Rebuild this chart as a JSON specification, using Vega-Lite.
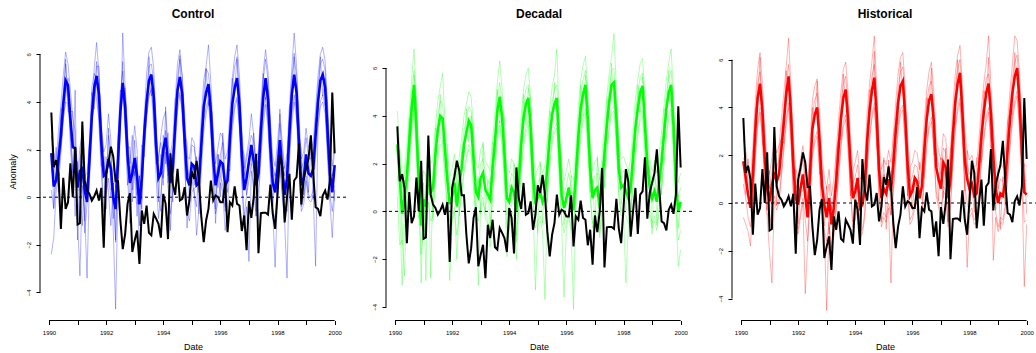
{
"$schema": "https://vega.github.io/schema/vega-lite/v6.json",
"padding": {"left": 7, "top": 8, "right": 0, "bottom": 0},
"background": "white",
"datasets": {"ts": [
{"t":1990.083,"o":3.56,"c":1.85,"c1":2.6,"c2":-2.4,"c3":1.2,"c4":0.3,"c5":3.15,"d":2.8,"d1":4.2,"d2":1.5,"d3":2.9,"d4":0.6,"d5":2.0,"h":1.75,"h1":2.7,"h2":-0.6,"h3":1.9,"h4":0.8,"h5":1.65},
{"t":1990.167,"o":1.26,"c":0.45,"c1":1.9,"c2":-1.7,"c3":0.8,"c4":-0.5,"c5":-0.45,"d":1.4,"d1":2.6,"d2":0.2,"d3":2.2,"d4":-1.4,"d5":2.6,"h":1.05,"h1":2.2,"h2":-0.9,"h3":1.6,"h4":0.2,"h5":0.35},
{"t":1990.25,"o":1.56,"c":0.7,"c1":1.4,"c2":0.2,"c3":2.1,"c4":0.9,"c5":1.3,"d":-0.1,"d1":1.0,"d2":-3.1,"d3":0.6,"d4":-1.2,"d5":-1.4,"h":0.35,"h1":1.5,"h2":-1.2,"h3":0.9,"h4":-0.6,"h5":1.85},
{"t":1990.333,"o":0.98,"c":1.6,"c1":2.8,"c2":1.1,"c3":0.5,"c4":2.2,"c5":0.2,"d":0.6,"d1":1.8,"d2":-0.6,"d3":1.5,"d4":-2.7,"d5":1.3,"h":-0.2,"h1":1.0,"h2":-1.8,"h3":0.4,"h4":-1.0,"h5":0.1},
{"t":1990.417,"o":-1.33,"c":2.6,"c1":3.9,"c2":2.0,"c3":1.8,"c4":3.4,"c5":3.7,"d":1.5,"d1":2.7,"d2":0.4,"d3":2.1,"d4":0.8,"d5":1.0,"h":1.2,"h1":2.4,"h2":0.0,"h3":1.8,"h4":0.2,"h5":0.1},
{"t":1990.5,"o":0.81,"c":3.9,"c1":5.1,"c2":3.2,"c3":3.3,"c4":4.4,"c5":3.7,"d":2.9,"d1":4.1,"d2":1.8,"d3":3.6,"d4":2.2,"d5":3.9,"h":3.0,"h1":4.2,"h2":1.8,"h3":3.6,"h4":2.0,"h5":3.9},
{"t":1990.583,"o":-0.49,"c":4.9,"c1":6.1,"c2":4.2,"c3":4.0,"c4":5.6,"c5":5.8,"d":4.3,"d1":5.5,"d2":3.2,"d3":5.0,"d4":3.6,"d5":3.4,"h":4.4,"h1":5.6,"h2":3.2,"h3":5.0,"h4":3.4,"h5":4.2},
{"t":1990.667,"o":-0.21,"c":4.7,"c1":5.6,"c2":5.0,"c3":3.9,"c4":4.2,"c5":3.6,"d":5.3,"d1":6.8,"d2":4.1,"d3":5.9,"d4":4.6,"d5":5.7,"h":5.0,"h1":6.3,"h2":3.8,"h3":5.5,"h4":4.0,"h5":6.1},
{"t":1990.75,"o":1.42,"c":3.3,"c1":4.5,"c2":2.1,"c3":2.6,"c4":2.9,"c5":3.6,"d":3.5,"d1":4.7,"d2":2.4,"d3":4.1,"d4":2.6,"d5":4.7,"h":3.85,"h1":5.0,"h2":2.6,"h3":4.4,"h4":2.8,"h5":2.45},
{"t":1990.833,"o":0.0,"c":2.1,"c1":3.3,"c2":0.6,"c3":1.2,"c4":1.0,"c5":3.6,"d":1.3,"d1":2.5,"d2":0.1,"d3":1.9,"d4":-0.3,"d5":0.3,"h":1.9,"h1":3.1,"h2":0.7,"h3":2.5,"h4":0.9,"h5":2.5},
{"t":1990.917,"o":2.12,"c":2.05,"c1":2.8,"c2":1.7,"c3":-0.8,"c4":4.5,"c5":1.35,"d":-0.6,"d1":0.6,"d2":-1.8,"d3":-3.0,"d4":0.4,"d5":0.2,"h":0.6,"h1":1.8,"h2":-0.6,"h3":1.2,"h4":-0.4,"h5":-0.3},
{"t":1991.0,"o":-1.15,"c":0.4,"c1":-0.9,"c2":0.8,"c3":1.5,"c4":-1.8,"c5":0.3,"d":0.5,"d1":1.7,"d2":-0.7,"d3":1.2,"d4":-0.5,"d5":-1.0,"h":0.07,"h1":1.2,"h2":-2.1,"h3":0.6,"h4":-1.0,"h5":1.37},
{"t":1991.083,"o":-1.09,"c":1.1,"c1":-3.3,"c2":2.1,"c3":0.2,"c4":1.6,"c5":0.3,"d":0.2,"d1":1.5,"d2":-1.0,"d3":-2.9,"d4":1.1,"d5":1.5,"h":0.75,"h1":1.9,"h2":-3.35,"h3":1.3,"h4":-0.3,"h5":-0.75},
{"t":1991.167,"o":3.18,"c":1.2,"c1":0.5,"c2":2.7,"c3":-1.2,"c4":2.0,"c5":2.4,"d":1.6,"d1":2.9,"d2":0.4,"d3":2.2,"d4":0.8,"d5":0.7,"h":1.3,"h1":2.5,"h2":0.1,"h3":1.9,"h4":0.3,"h5":2.1},
{"t":1991.25,"o":0.7,"c":0.3,"c1":-0.6,"c2":1.1,"c3":0.9,"c4":-1.5,"c5":-1.0,"d":0.8,"d1":2.0,"d2":-0.4,"d3":-2.8,"d4":1.4,"d5":1.4,"h":0.9,"h1":2.1,"h2":-0.3,"h3":1.5,"h4":-0.1,"h5":-0.1},
{"t":1991.333,"o":0.28,"c":-0.2,"c1":-3.4,"c2":0.4,"c3":1.0,"c4":-0.3,"c5":0.5,"d":1.0,"d1":2.2,"d2":-0.2,"d3":1.7,"d4":0.1,"d5":-0.4,"h":1.2,"h1":2.4,"h2":0.0,"h3":1.8,"h4":0.2,"h5":2.4},
{"t":1991.417,"o":0.14,"c":1.6,"c1":0.7,"c2":2.4,"c3":2.3,"c4":1.2,"c5":1.1,"d":2.4,"d1":3.6,"d2":1.2,"d3":3.0,"d4":1.5,"d5":3.5,"h":2.3,"h1":3.5,"h2":1.1,"h3":2.9,"h4":1.3,"h5":2.7},
{"t":1991.5,"o":-0.14,"c":3.4,"c1":2.5,"c2":4.6,"c3":3.1,"c4":3.7,"c5":4.4,"d":3.4,"d1":4.6,"d2":2.2,"d3":4.0,"d4":2.5,"d5":3.2,"h":3.4,"h1":4.6,"h2":2.2,"h3":4.0,"h4":2.4,"h5":2.5},
{"t":1991.583,"o":0.03,"c":4.6,"c1":5.4,"c2":5.2,"c3":3.9,"c4":4.8,"c5":3.7,"d":4.0,"d1":5.2,"d2":2.8,"d3":4.6,"d4":3.1,"d5":4.9,"h":4.55,"h1":5.7,"h2":3.3,"h3":5.1,"h4":3.5,"h5":5.55},
{"t":1991.667,"o":0.28,"c":5.1,"c1":6.5,"c2":4.9,"c3":5.7,"c4":4.1,"c5":5.5,"d":3.9,"d1":5.8,"d2":2.7,"d3":4.5,"d4":3.0,"d5":2.8,"h":5.3,"h1":6.9,"h2":4.0,"h3":5.8,"h4":4.2,"h5":4.8},
{"t":1991.75,"o":-0.14,"c":4.3,"c1":5.2,"c2":3.0,"c3":4.9,"c4":3.3,"c5":5.5,"d":2.6,"d1":3.8,"d2":1.4,"d3":3.2,"d4":1.6,"d5":2.9,"h":3.7,"h1":4.9,"h2":2.5,"h3":4.3,"h4":2.7,"h5":4.4},
{"t":1991.833,"o":0.39,"c":2.3,"c1":3.1,"c2":1.2,"c3":2.8,"c4":1.4,"c5":1.3,"d":1.3,"d1":2.5,"d2":0.1,"d3":1.9,"d4":0.3,"d5":2.8,"h":1.6,"h1":2.8,"h2":0.4,"h3":2.2,"h4":0.6,"h5":0.3},
{"t":1991.917,"o":-2.12,"c":0.9,"c1":1.9,"c2":-1.0,"c3":1.8,"c4":-0.6,"c5":1.7,"d":0.3,"d1":1.5,"d2":-2.9,"d3":0.9,"d4":-0.7,"d5":-0.4,"h":0.2,"h1":1.4,"h2":-1.0,"h3":0.8,"h4":-0.8,"h5":1.4},
{"t":1992.0,"o":0.98,"c":1.0,"c1":2.2,"c2":0.1,"c3":0.3,"c4":1.7,"c5":-0.5,"d":0.6,"d1":1.8,"d2":-0.6,"d3":1.2,"d4":-0.4,"d5":0.5,"h":-0.07,"h1":1.1,"h2":-1.3,"h3":0.5,"h4":-1.1,"h5":-0.87},
{"t":1992.083,"o":1.47,"c":1.6,"c1":3.5,"c2":0.8,"c3":2.6,"c4":0.2,"c5":2.9,"d":1.2,"d1":2.4,"d2":0.0,"d3":1.8,"d4":0.2,"d5":0.4,"h":0.6,"h1":1.8,"h2":-0.6,"h3":1.2,"h4":-0.4,"h5":0.5},
{"t":1992.167,"o":2.12,"c":1.2,"c1":2.4,"c2":0.0,"c3":1.9,"c4":-1.2,"c5":0.3,"d":0.2,"d1":1.4,"d2":-1.0,"d3":0.8,"d4":-2.0,"d5":1.4,"h":1.2,"h1":2.4,"h2":0.0,"h3":1.8,"h4":0.2,"h5":0.5},
{"t":1992.25,"o":1.7,"c":0.0,"c1":-1.4,"c2":1.3,"c3":-0.9,"c4":0.6,"c5":0.6,"d":1.1,"d1":2.3,"d2":-0.1,"d3":1.7,"d4":0.1,"d5":-0.2,"h":0.3,"h1":1.5,"h2":-3.8,"h3":0.9,"h4":-0.7,"h5":1.8},
{"t":1992.333,"o":0.67,"c":-0.5,"c1":-4.7,"c2":0.4,"c3":0.5,"c4":-1.8,"c5":-1.9,"d":1.8,"d1":3.0,"d2":0.6,"d3":2.4,"d4":0.8,"d5":2.5,"h":-0.6,"h1":0.6,"h2":-1.8,"h3":0.0,"h4":-1.6,"h5":-0.3},
{"t":1992.417,"o":0.67,"c":1.5,"c1":0.3,"c2":2.6,"c3":1.8,"c4":2.2,"c5":2.6,"d":2.8,"d1":4.0,"d2":1.6,"d3":3.4,"d4":1.8,"d5":2.3,"h":1.3,"h1":2.5,"h2":0.1,"h3":1.9,"h4":0.3,"h5":0.2},
{"t":1992.5,"o":-0.98,"c":3.6,"c1":2.9,"c2":4.5,"c3":3.2,"c4":4.4,"c5":3.4,"d":3.3,"d1":4.5,"d2":2.1,"d3":3.9,"d4":2.3,"d5":4.3,"h":3.1,"h1":4.3,"h2":1.9,"h3":3.7,"h4":2.1,"h5":4.0},
{"t":1992.583,"o":-2.18,"c":4.8,"c1":6.9,"c2":4.3,"c3":4.5,"c4":5.3,"c5":5.7,"d":3.8,"d1":5.0,"d2":2.6,"d3":4.4,"d4":2.8,"d5":2.9,"h":3.7,"h1":4.9,"h2":2.5,"h3":4.3,"h4":2.7,"h5":3.5},
{"t":1992.667,"o":-1.54,"c":3.8,"c1":4.6,"c2":2.9,"c3":4.6,"c4":3.2,"c5":2.7,"d":3.6,"d1":4.8,"d2":2.4,"d3":4.2,"d4":2.6,"d5":4.0,"h":4.0,"h1":5.2,"h2":2.8,"h3":4.6,"h4":3.0,"h5":5.1},
{"t":1992.75,"o":-0.28,"c":1.8,"c1":2.9,"c2":0.5,"c3":2.5,"c4":0.9,"c5":2.1,"d":2.2,"d1":3.4,"d2":1.0,"d3":2.8,"d4":1.2,"d5":3.4,"h":2.6,"h1":3.8,"h2":1.4,"h3":3.2,"h4":1.6,"h5":1.2},
{"t":1992.833,"o":0.17,"c":0.6,"c1":-0.6,"c2":1.3,"c3":1.4,"c4":-1.1,"c5":2.1,"d":0.8,"d1":2.0,"d2":-0.4,"d3":1.4,"d4":-0.2,"d5":-0.2,"h":0.77,"h1":2.0,"h2":-0.4,"h3":1.4,"h4":-0.2,"h5":1.37},
{"t":1992.917,"o":-2.3,"c":1.0,"c1":1.9,"c2":-0.2,"c3":2.6,"c4":0.4,"c5":0.3,"d":0.6,"d1":1.8,"d2":-3.1,"d3":1.2,"d4":-0.4,"d5":1.4,"h":-0.07,"h1":1.1,"h2":-1.3,"h3":0.5,"h4":-1.1,"h5":-0.97},
{"t":1993.0,"o":-1.82,"c":1.65,"c1":3.0,"c2":1.1,"c3":0.9,"c4":2.4,"c5":1.55,"d":1.4,"d1":2.6,"d2":0.2,"d3":2.0,"d4":0.4,"d5":-0.1,"h":-0.6,"h1":0.6,"h2":-4.5,"h3":0.0,"h4":-1.6,"h5":0.7},
{"t":1993.083,"o":-1.4,"c":0.9,"c1":2.0,"c2":-0.8,"c3":1.7,"c4":-0.3,"c5":0.1,"d":1.6,"d1":2.8,"d2":0.4,"d3":2.2,"d4":0.6,"d5":2.9,"h":0.2,"h1":1.4,"h2":-1.0,"h3":0.8,"h4":-0.8,"h5":-1.3},
{"t":1993.167,"o":-2.8,"c":-0.3,"c1":-1.2,"c2":0.9,"c3":-2.6,"c4":0.4,"c5":0.9,"d":0.9,"d1":2.1,"d2":-0.3,"d3":1.5,"d4":-0.1,"d5":0.0,"h":-0.9,"h1":0.3,"h2":-2.1,"h3":-0.3,"h4":-1.9,"h5":-0.1},
{"t":1993.25,"o":-0.56,"c":0.8,"c1":1.7,"c2":-0.1,"c3":0.3,"c4":2.2,"c5":-0.5,"d":0.7,"d1":1.9,"d2":-0.5,"d3":1.3,"d4":-0.3,"d5":1.3,"h":-0.2,"h1":1.0,"h2":-1.4,"h3":0.4,"h4":-1.2,"h5":-1.2},
{"t":1993.333,"o":-1.12,"c":2.6,"c1":3.3,"c2":2.0,"c3":2.9,"c4":1.7,"c5":3.3,"d":0.5,"d1":1.7,"d2":-0.7,"d3":1.1,"d4":-1.5,"d5":-0.9,"h":0.9,"h1":2.1,"h2":-0.3,"h3":1.5,"h4":-0.1,"h5":2.1},
{"t":1993.417,"o":-0.35,"c":4.0,"c1":5.2,"c2":3.4,"c3":4.1,"c4":3.3,"c5":3.5,"d":1.8,"d1":3.0,"d2":0.6,"d3":2.4,"d4":0.8,"d5":2.9,"h":2.3,"h1":3.5,"h2":1.1,"h3":2.9,"h4":1.3,"h5":2.7},
{"t":1993.5,"o":-1.5,"c":4.9,"c1":6.1,"c2":4.2,"c3":5.5,"c4":4.3,"c5":5.9,"d":2.9,"d1":4.1,"d2":1.7,"d3":3.5,"d4":1.9,"d5":2.7,"h":3.55,"h1":4.7,"h2":2.3,"h3":4.1,"h4":2.5,"h5":2.65},
{"t":1993.583,"o":-1.6,"c":5.15,"c1":6.3,"c2":4.6,"c3":5.6,"c4":4.5,"c5":4.25,"d":4.2,"d1":5.4,"d2":3.0,"d3":4.8,"d4":3.2,"d5":5.1,"h":4.4,"h1":5.6,"h2":3.2,"h3":5.0,"h4":3.4,"h5":5.4},
{"t":1993.667,"o":-0.7,"c":4.2,"c1":5.4,"c2":3.5,"c3":4.9,"c4":2.9,"c5":4.6,"d":4.8,"d1":6.3,"d2":3.6,"d3":5.4,"d4":3.8,"d5":3.7,"h":4.75,"h1":5.9,"h2":3.5,"h3":5.3,"h4":3.7,"h5":4.25},
{"t":1993.75,"o":-0.9,"c":2.2,"c1":3.0,"c2":0.8,"c3":2.9,"c4":1.4,"c5":3.4,"d":3.9,"d1":5.1,"d2":2.7,"d3":4.5,"d4":2.9,"d5":4.2,"h":3.4,"h1":4.6,"h2":2.2,"h3":4.0,"h4":2.4,"h5":4.1},
{"t":1993.833,"o":-1.12,"c":0.8,"c1":1.5,"c2":-0.9,"c3":0.1,"c4":1.7,"c5":-0.2,"d":2.4,"d1":3.6,"d2":1.2,"d3":3.0,"d4":1.4,"d5":3.9,"h":1.6,"h1":2.8,"h2":0.4,"h3":2.2,"h4":0.6,"h5":0.3},
{"t":1993.917,"o":-1.7,"c":1.0,"c1":2.6,"c2":0.2,"c3":-0.6,"c4":2.3,"c5":1.8,"d":0.55,"d1":1.8,"d2":-0.7,"d3":1.2,"d4":-1.9,"d5":-0.15,"h":0.2,"h1":1.4,"h2":-1.0,"h3":0.8,"h4":-0.8,"h5":1.4},
{"t":1994.0,"o":0.14,"c":2.0,"c1":3.3,"c2":1.2,"c3":2.6,"c4":0.8,"c5":0.5,"d":0.4,"d1":1.6,"d2":-0.8,"d3":1.0,"d4":-0.6,"d5":0.3,"h":0.5,"h1":1.7,"h2":-0.7,"h3":1.1,"h4":-0.5,"h5":-0.3},
{"t":1994.083,"o":-0.28,"c":2.5,"c1":3.6,"c2":2.8,"c3":1.4,"c4":1.9,"c5":3.8,"d":1.0,"d1":2.2,"d2":-0.2,"d3":1.6,"d4":0.0,"d5":0.2,"h":1.05,"h1":2.2,"h2":-0.2,"h3":1.6,"h4":0.0,"h5":0.95},
{"t":1994.167,"o":-1.76,"c":1.5,"c1":2.2,"c2":0.4,"c3":2.7,"c4":0.9,"c5":0.6,"d":0.8,"d1":2.0,"d2":-0.4,"d3":1.4,"d4":-0.2,"d5":2.0,"h":-0.2,"h1":1.0,"h2":-1.4,"h3":0.4,"h4":-1.2,"h5":-0.9},
{"t":1994.25,"o":1.84,"c":0.6,"c1":1.8,"c2":-0.7,"c3":-1.4,"c4":1.5,"c5":1.2,"d":0.0,"d1":1.2,"d2":-2.0,"d3":0.6,"d4":-1.0,"d5":-1.3,"h":-0.07,"h1":1.1,"h2":-1.3,"h3":0.5,"h4":-1.1,"h5":1.43},
{"t":1994.333,"o":0.56,"c":1.2,"c1":2.4,"c2":0.3,"c3":0.6,"c4":2.0,"c5":-0.2,"d":1.25,"d1":2.5,"d2":0.1,"d3":1.9,"d4":0.3,"d5":1.95,"h":0.6,"h1":1.8,"h2":-0.6,"h3":1.2,"h4":-0.4,"h5":0.9},
{"t":1994.417,"o":0.1,"c":3.0,"c1":4.1,"c2":2.0,"c3":3.6,"c4":2.4,"c5":4.1,"d":2.8,"d1":4.0,"d2":1.6,"d3":3.4,"d4":1.8,"d5":2.3,"h":2.6,"h1":3.8,"h2":1.4,"h3":3.2,"h4":1.6,"h5":1.5},
{"t":1994.5,"o":1.19,"c":4.5,"c1":5.6,"c2":3.6,"c3":5.0,"c4":4.1,"c5":4.3,"d":3.9,"d1":5.1,"d2":2.7,"d3":4.5,"d4":2.9,"d5":4.9,"h":3.85,"h1":5.0,"h2":2.6,"h3":4.4,"h4":2.8,"h5":4.75},
{"t":1994.583,"o":-0.14,"c":5.05,"c1":6.2,"c2":4.3,"c3":5.8,"c4":4.4,"c5":5.95,"d":4.5,"d1":5.7,"d2":3.3,"d3":5.1,"d4":3.5,"d5":3.6,"h":4.7,"h1":5.9,"h2":3.5,"h3":5.3,"h4":3.7,"h5":4.5},
{"t":1994.667,"o":-0.07,"c":4.3,"c1":5.0,"c2":3.7,"c3":5.1,"c4":3.5,"c5":3.2,"d":4.75,"d1":6.0,"d2":3.6,"d3":5.3,"d4":3.8,"d5":5.15,"h":5.25,"h1":7.0,"h2":4.0,"h3":5.8,"h4":4.2,"h5":6.35},
{"t":1994.75,"o":0.42,"c":2.4,"c1":3.5,"c2":1.3,"c3":2.9,"c4":1.6,"c5":2.7,"d":3.5,"d1":4.7,"d2":2.3,"d3":4.1,"d4":2.5,"d5":4.7,"h":3.7,"h1":4.9,"h2":2.5,"h3":4.3,"h4":2.7,"h5":2.3},
{"t":1994.833,"o":-0.77,"c":0.8,"c1":1.7,"c2":-0.6,"c3":1.4,"c4":-1.3,"c5":2.3,"d":1.5,"d1":2.7,"d2":0.3,"d3":2.1,"d4":0.5,"d5":0.5,"h":1.4,"h1":2.6,"h2":0.2,"h3":2.0,"h4":0.4,"h5":2.0},
{"t":1994.917,"o":-0.14,"c":0.5,"c1":1.6,"c2":-1.0,"c3":0.7,"c4":0.2,"c5":-0.2,"d":0.3,"d1":1.5,"d2":-3.3,"d3":0.9,"d4":-0.7,"d5":1.1,"h":0.2,"h1":1.4,"h2":-1.0,"h3":0.8,"h4":-0.8,"h5":-0.7},
{"t":1995.0,"o":1.09,"c":1.4,"c1":2.5,"c2":0.2,"c3":2.2,"c4":0.8,"c5":1.3,"d":0.6,"d1":1.8,"d2":-0.6,"d3":1.2,"d4":-0.4,"d5":-0.9,"h":0.6,"h1":1.8,"h2":-0.6,"h3":1.2,"h4":-0.4,"h5":1.9},
{"t":1995.083,"o":0.77,"c":1.3,"c1":2.3,"c2":0.4,"c3":2.1,"c4":0.1,"c5":0.5,"d":0.8,"d1":2.0,"d2":-0.4,"d3":1.4,"d4":-0.2,"d5":2.1,"h":0.4,"h1":1.6,"h2":-0.8,"h3":1.0,"h4":-0.6,"h5":-1.1},
{"t":1995.167,"o":1.53,"c":0.5,"c1":1.2,"c2":-1.6,"c3":1.3,"c4":-0.4,"c5":1.7,"d":0.4,"d1":1.6,"d2":-0.8,"d3":1.0,"d4":-0.6,"d5":-0.5,"h":1.0,"h1":2.2,"h2":-0.2,"h3":1.6,"h4":0.0,"h5":1.8},
{"t":1995.25,"o":0.7,"c":0.6,"c1":1.7,"c2":-0.5,"c3":0.2,"c4":1.4,"c5":-0.7,"d":0.7,"d1":1.9,"d2":-3.7,"d3":1.3,"d4":-0.5,"d5":1.3,"h":0.5,"h1":1.7,"h2":-3.35,"h3":1.1,"h4":-0.5,"h5":-0.5},
{"t":1995.333,"o":-0.84,"c":2.2,"c1":3.4,"c2":1.1,"c3":2.8,"c4":2.0,"c5":2.9,"d":1.8,"d1":3.0,"d2":0.6,"d3":2.4,"d4":0.8,"d5":0.4,"h":1.6,"h1":2.8,"h2":0.4,"h3":2.2,"h4":0.6,"h5":2.8},
{"t":1995.417,"o":-1.89,"c":3.8,"c1":4.9,"c2":2.7,"c3":4.3,"c4":3.2,"c5":3.3,"d":3.1,"d1":4.3,"d2":1.9,"d3":3.7,"d4":2.1,"d5":4.2,"h":3.0,"h1":4.2,"h2":1.8,"h3":3.6,"h4":2.0,"h5":3.4},
{"t":1995.5,"o":-0.98,"c":4.4,"c1":5.5,"c2":3.5,"c3":5.4,"c4":3.8,"c5":5.4,"d":4.05,"d1":5.2,"d2":2.8,"d3":4.6,"d4":3.0,"d5":3.85,"h":4.2,"h1":5.4,"h2":3.0,"h3":4.8,"h4":3.2,"h5":3.3},
{"t":1995.583,"o":-0.49,"c":4.75,"c1":6.4,"c2":4.0,"c3":5.2,"c4":4.1,"c5":3.85,"d":4.5,"d1":5.7,"d2":3.3,"d3":5.1,"d4":3.5,"d5":5.4,"h":4.9,"h1":6.1,"h2":3.7,"h3":5.5,"h4":3.9,"h5":5.9},
{"t":1995.667,"o":0.7,"c":3.6,"c1":4.8,"c2":2.6,"c3":4.2,"c4":2.9,"c5":4.0,"d":4.75,"d1":6.8,"d2":3.5,"d3":5.3,"d4":3.7,"d5":3.65,"h":5.1,"h1":6.3,"h2":3.9,"h3":5.7,"h4":4.1,"h5":4.6},
{"t":1995.75,"o":-0.14,"c":1.6,"c1":2.7,"c2":0.4,"c3":2.3,"c4":0.9,"c5":2.8,"d":2.65,"d1":3.8,"d2":1.4,"d3":3.2,"d4":1.6,"d5":2.95,"h":3.6,"h1":4.8,"h2":2.4,"h3":4.2,"h4":2.6,"h5":4.3},
{"t":1995.833,"o":0.07,"c":0.5,"c1":1.4,"c2":-0.7,"c3":1.3,"c4":-1.1,"c5":-0.5,"d":0.7,"d1":1.9,"d2":-0.5,"d3":1.3,"d4":-0.3,"d5":2.2,"h":1.6,"h1":2.8,"h2":0.4,"h3":2.2,"h4":0.6,"h5":0.3},
{"t":1995.917,"o":0.0,"c":1.0,"c1":2.1,"c2":-0.2,"c3":0.4,"c4":1.8,"c5":1.8,"d":0.14,"d1":1.3,"d2":-3.6,"d3":0.7,"d4":-0.9,"d5":-0.56,"h":0.3,"h1":1.5,"h2":-0.9,"h3":0.9,"h4":-0.7,"h5":1.5},
{"t":1996.0,"o":-0.21,"c":1.5,"c1":2.7,"c2":0.6,"c3":1.8,"c4":0.9,"c5":0.0,"d":0.55,"d1":1.7,"d2":-0.7,"d3":1.1,"d4":-0.5,"d5":0.45,"h":0.5,"h1":1.7,"h2":-0.7,"h3":1.1,"h4":-0.5,"h5":-0.3},
{"t":1996.083,"o":-0.21,"c":1.4,"c1":2.5,"c2":0.2,"c3":2.3,"c4":0.5,"c5":2.7,"d":1.0,"d1":2.2,"d2":-0.2,"d3":1.6,"d4":0.0,"d5":0.2,"h":1.05,"h1":2.2,"h2":-0.2,"h3":1.6,"h4":0.0,"h5":0.95},
{"t":1996.167,"o":0.67,"c":0.5,"c1":1.6,"c2":-1.4,"c3":0.9,"c4":-0.6,"c5":-0.4,"d":0.3,"d1":1.5,"d2":-0.9,"d3":0.9,"d4":-0.7,"d5":1.5,"h":0.9,"h1":2.1,"h2":-0.3,"h3":1.5,"h4":-0.1,"h5":0.2},
{"t":1996.25,"o":-1.47,"c":0.7,"c1":1.9,"c2":-0.4,"c3":0.2,"c4":1.1,"c5":1.3,"d":0.14,"d1":1.3,"d2":-4.1,"d3":0.7,"d4":-0.9,"d5":-1.16,"h":0.2,"h1":1.4,"h2":-1.0,"h3":0.8,"h4":-0.8,"h5":1.7},
{"t":1996.333,"o":-0.21,"c":2.5,"c1":3.6,"c2":1.3,"c3":3.2,"c4":1.9,"c5":1.1,"d":1.5,"d1":2.7,"d2":0.3,"d3":2.1,"d4":0.5,"d5":2.2,"h":0.7,"h1":1.9,"h2":-0.5,"h3":1.3,"h4":-0.3,"h5":1.0},
{"t":1996.417,"o":-0.35,"c":3.9,"c1":5.0,"c2":2.8,"c3":4.6,"c4":3.1,"c5":5.0,"d":3.1,"d1":4.3,"d2":1.9,"d3":3.7,"d4":2.1,"d5":2.6,"h":2.2,"h1":3.4,"h2":1.0,"h3":2.8,"h4":1.2,"h5":1.1},
{"t":1996.5,"o":0.45,"c":4.6,"c1":5.9,"c2":3.7,"c3":5.5,"c4":3.9,"c5":4.4,"d":4.3,"d1":5.5,"d2":3.1,"d3":4.9,"d4":3.3,"d5":5.3,"h":3.5,"h1":4.7,"h2":2.3,"h3":4.1,"h4":2.5,"h5":4.4},
{"t":1996.583,"o":-0.28,"c":5.0,"c1":6.4,"c2":4.1,"c3":5.8,"c4":4.2,"c5":5.9,"d":4.9,"d1":6.1,"d2":3.7,"d3":5.5,"d4":3.9,"d5":4.0,"h":4.3,"h1":5.5,"h2":3.1,"h3":4.9,"h4":3.3,"h5":4.1},
{"t":1996.667,"o":-0.35,"c":3.9,"c1":5.1,"c2":2.9,"c3":4.6,"c4":3.0,"c5":2.8,"d":5.3,"d1":6.5,"d2":4.1,"d3":5.9,"d4":4.3,"d5":5.7,"h":4.55,"h1":5.9,"h2":3.4,"h3":5.1,"h4":3.6,"h5":5.65},
{"t":1996.75,"o":-1.42,"c":1.8,"c1":2.9,"c2":0.6,"c3":2.6,"c4":0.9,"c5":2.1,"d":3.8,"d1":5.0,"d2":2.6,"d3":4.4,"d4":2.8,"d5":5.0,"h":3.4,"h1":4.6,"h2":2.2,"h3":4.0,"h4":2.4,"h5":2.0},
{"t":1996.833,"o":-0.77,"c":0.3,"c1":1.2,"c2":-1.3,"c3":0.9,"c4":-0.8,"c5":1.8,"d":1.8,"d1":3.0,"d2":0.6,"d3":2.4,"d4":0.8,"d5":0.8,"h":1.5,"h1":2.7,"h2":0.3,"h3":2.1,"h4":0.5,"h5":2.1},
{"t":1996.917,"o":-2.23,"c":0.8,"c1":1.8,"c2":-0.4,"c3":1.6,"c4":0.1,"c5":0.1,"d":0.55,"d1":1.7,"d2":-0.7,"d3":1.1,"d4":-0.5,"d5":1.35,"h":1.0,"h1":2.2,"h2":-0.2,"h3":1.6,"h4":0.0,"h5":0.1},
{"t":1997.0,"o":-0.17,"c":1.5,"c1":2.4,"c2":-2.7,"c3":2.1,"c4":0.7,"c5":1.4,"d":0.9,"d1":2.1,"d2":-0.3,"d3":1.5,"d4":-0.1,"d5":-0.6,"h":0.6,"h1":1.8,"h2":-0.6,"h3":1.2,"h4":-0.4,"h5":1.9},
{"t":1997.083,"o":-0.87,"c":2.2,"c1":3.5,"c2":1.1,"c3":2.6,"c4":1.4,"c5":1.4,"d":1.0,"d1":2.2,"d2":-0.2,"d3":1.6,"d4":0.0,"d5":2.3,"h":1.7,"h1":2.9,"h2":0.5,"h3":2.3,"h4":0.7,"h5":0.2},
{"t":1997.167,"o":0.0,"c":1.5,"c1":2.6,"c2":0.3,"c3":2.3,"c4":0.5,"c5":2.7,"d":0.14,"d1":1.3,"d2":-1.1,"d3":0.7,"d4":-0.9,"d5":-0.76,"h":1.5,"h1":2.7,"h2":0.3,"h3":2.1,"h4":0.5,"h5":2.3},
{"t":1997.25,"o":1.82,"c":0.5,"c1":1.5,"c2":-0.8,"c3":1.3,"c4":-0.6,"c5":-0.8,"d":1.1,"d1":2.3,"d2":-0.1,"d3":1.7,"d4":0.1,"d5":1.7,"h":0.2,"h1":1.4,"h2":-1.0,"h3":0.8,"h4":-0.8,"h5":-0.8},
{"t":1997.333,"o":-2.35,"c":1.0,"c1":2.0,"c2":-0.1,"c3":1.6,"c4":0.3,"c5":1.7,"d":2.4,"d1":3.6,"d2":1.2,"d3":3.0,"d4":1.4,"d5":1.0,"h":1.0,"h1":2.2,"h2":-0.2,"h3":1.6,"h4":0.0,"h5":2.2},
{"t":1997.417,"o":-0.67,"c":2.8,"c1":3.9,"c2":1.6,"c3":3.4,"c4":2.0,"c5":2.3,"d":3.6,"d1":4.8,"d2":2.4,"d3":4.2,"d4":2.6,"d5":4.7,"h":2.8,"h1":4.0,"h2":1.6,"h3":3.4,"h4":1.8,"h5":3.2},
{"t":1997.5,"o":-0.65,"c":4.2,"c1":5.3,"c2":3.0,"c3":4.9,"c4":3.4,"c5":5.2,"d":4.6,"d1":5.8,"d2":3.4,"d3":5.2,"d4":3.6,"d5":4.4,"h":4.2,"h1":5.4,"h2":3.0,"h3":4.8,"h4":3.2,"h5":3.3},
{"t":1997.583,"o":-0.65,"c":5.0,"c1":6.2,"c2":3.9,"c3":5.8,"c4":4.2,"c5":4.1,"d":5.3,"d1":6.5,"d2":4.1,"d3":5.9,"d4":4.3,"d5":6.2,"h":5.0,"h1":6.2,"h2":3.8,"h3":5.6,"h4":4.0,"h5":6.0},
{"t":1997.667,"o":-0.73,"c":4.1,"c1":5.3,"c2":2.9,"c3":4.9,"c4":3.2,"c5":4.5,"d":5.4,"d1":7.45,"d2":4.2,"d3":6.0,"d4":4.4,"d5":4.3,"h":5.45,"h1":6.6,"h2":4.2,"h3":6.0,"h4":4.4,"h5":4.95},
{"t":1997.75,"o":0.53,"c":2.1,"c1":3.2,"c2":1.0,"c3":2.8,"c4":1.2,"c5":3.3,"d":3.9,"d1":5.1,"d2":2.7,"d3":4.5,"d4":2.9,"d5":4.2,"h":3.8,"h1":5.0,"h2":2.6,"h3":4.4,"h4":2.8,"h5":4.5},
{"t":1997.833,"o":-0.7,"c":0.6,"c1":1.7,"c2":-0.6,"c3":1.3,"c4":-0.5,"c5":-0.4,"d":1.8,"d1":3.0,"d2":0.6,"d3":2.4,"d4":0.8,"d5":3.3,"h":1.8,"h1":3.0,"h2":0.6,"h3":2.4,"h4":0.8,"h5":0.5},
{"t":1997.917,"o":-1.33,"c":0.2,"c1":1.3,"c2":-2.95,"c3":0.9,"c4":-0.9,"c5":1.0,"d":1.0,"d1":2.2,"d2":-0.2,"d3":1.6,"d4":0.0,"d5":0.3,"h":1.0,"h1":2.2,"h2":-2.7,"h3":1.6,"h4":0.0,"h5":2.2},
{"t":1998.0,"o":0.14,"c":1.2,"c1":2.3,"c2":0.1,"c3":1.9,"c4":0.4,"c5":-0.3,"d":1.1,"d1":2.3,"d2":-0.1,"d3":1.7,"d4":0.1,"d5":1.0,"h":0.6,"h1":1.8,"h2":-0.6,"h3":1.2,"h4":-0.4,"h5":-0.2},
{"t":1998.083,"o":1.77,"c":2.4,"c1":3.5,"c2":1.3,"c3":3.1,"c4":1.5,"c5":3.7,"d":0.85,"d1":2.0,"d2":-3.0,"d3":1.4,"d4":-0.2,"d5":0.05,"h":0.8,"h1":2.0,"h2":-0.4,"h3":1.4,"h4":-0.2,"h5":0.7},
{"t":1998.167,"o":1.26,"c":1.2,"c1":2.3,"c2":0.0,"c3":2.0,"c4":0.2,"c5":0.3,"d":0.55,"d1":1.7,"d2":-0.7,"d3":1.1,"d4":-0.5,"d5":1.75,"h":0.3,"h1":1.5,"h2":-0.9,"h3":0.9,"h4":-0.7,"h5":-0.4},
{"t":1998.25,"o":-1.06,"c":0.1,"c1":1.2,"c2":-1.1,"c3":0.9,"c4":-1.0,"c5":0.7,"d":1.0,"d1":2.2,"d2":-0.2,"d3":1.6,"d4":0.0,"d5":-0.3,"h":0.4,"h1":1.6,"h2":-0.8,"h3":1.0,"h4":-0.6,"h5":1.9},
{"t":1998.333,"o":0.0,"c":0.8,"c1":1.9,"c2":-3.4,"c3":1.5,"c4":-0.3,"c5":-0.6,"d":2.2,"d1":3.4,"d2":1.0,"d3":2.8,"d4":1.2,"d5":2.9,"h":1.5,"h1":2.7,"h2":0.3,"h3":2.1,"h4":0.5,"h5":1.8},
{"t":1998.417,"o":0.98,"c":2.7,"c1":3.8,"c2":1.5,"c3":3.4,"c4":1.9,"c5":3.8,"d":3.5,"d1":4.7,"d2":2.3,"d3":4.1,"d4":2.5,"d5":3.0,"h":2.8,"h1":4.0,"h2":1.6,"h3":3.4,"h4":1.8,"h5":1.7},
{"t":1998.5,"o":-0.95,"c":4.3,"c1":5.4,"c2":3.1,"c3":5.0,"c4":3.5,"c5":4.1,"d":4.3,"d1":5.5,"d2":3.1,"d3":4.9,"d4":3.3,"d5":5.3,"h":3.8,"h1":5.0,"h2":2.6,"h3":4.4,"h4":2.8,"h5":4.7},
{"t":1998.583,"o":0.7,"c":5.15,"c1":6.9,"c2":4.0,"c3":5.9,"c4":4.3,"c5":6.05,"d":5.0,"d1":6.2,"d2":3.8,"d3":5.6,"d4":4.0,"d5":4.1,"h":4.6,"h1":5.8,"h2":3.4,"h3":5.2,"h4":3.6,"h5":4.4},
{"t":1998.667,"o":0.84,"c":4.4,"c1":5.5,"c2":3.3,"c3":5.1,"c4":3.6,"c5":3.3,"d":5.25,"d1":6.4,"d2":4.0,"d3":5.8,"d4":4.2,"d5":5.65,"h":5.0,"h1":7.0,"h2":3.8,"h3":5.4,"h4":4.0,"h5":6.1},
{"t":1998.75,"o":2.26,"c":2.3,"c1":3.4,"c2":1.2,"c3":3.0,"c4":1.4,"c5":2.6,"d":3.6,"d1":4.8,"d2":2.4,"d3":4.2,"d4":2.6,"d5":4.8,"h":3.7,"h1":4.9,"h2":2.5,"h3":4.3,"h4":2.7,"h5":2.3},
{"t":1998.833,"o":-0.31,"c":0.5,"c1":1.6,"c2":-0.6,"c3":1.2,"c4":-0.4,"c5":2.0,"d":2.0,"d1":3.2,"d2":0.8,"d3":2.6,"d4":1.0,"d5":1.0,"h":1.9,"h1":3.1,"h2":-2.4,"h3":2.5,"h4":0.9,"h5":2.5},
{"t":1998.917,"o":0.77,"c":0.8,"c1":1.9,"c2":-0.3,"c3":1.5,"c4":0.0,"c5":0.1,"d":1.0,"d1":2.2,"d2":-0.2,"d3":1.6,"d4":0.0,"d5":1.8,"h":0.6,"h1":1.8,"h2":-0.6,"h3":1.2,"h4":-0.4,"h5":-0.3},
{"t":1999.0,"o":1.2,"c":1.8,"c1":2.9,"c2":0.7,"c3":2.5,"c4":0.9,"c5":1.7,"d":0.55,"d1":1.7,"d2":-0.7,"d3":1.1,"d4":-0.5,"d5":-0.95,"h":0.0,"h1":1.2,"h2":-1.2,"h3":0.6,"h4":-1.0,"h5":1.3},
{"t":1999.083,"o":1.6,"c":1.0,"c1":2.1,"c2":-0.1,"c3":1.7,"c4":0.1,"c5":0.2,"d":0.85,"d1":2.0,"d2":-0.4,"d3":1.4,"d4":-0.2,"d5":2.15,"h":0.4,"h1":1.6,"h2":-0.8,"h3":1.0,"h4":-0.6,"h5":-1.1},
{"t":1999.167,"o":2.6,"c":0.9,"c1":2.0,"c2":-0.2,"c3":1.6,"c4":0.0,"c5":2.1,"d":0.4,"d1":1.6,"d2":-0.8,"d3":1.0,"d4":-0.6,"d5":-0.5,"h":0.3,"h1":1.5,"h2":-0.9,"h3":0.9,"h4":-0.7,"h5":1.1},
{"t":1999.25,"o":0.98,"c":1.2,"c1":2.3,"c2":0.1,"c3":1.9,"c4":0.3,"c5":-0.1,"d":1.25,"d1":2.4,"d2":0.0,"d3":1.8,"d4":0.2,"d5":1.85,"h":0.9,"h1":2.1,"h2":-0.3,"h3":1.5,"h4":-0.1,"h5":-0.1},
{"t":1999.333,"o":-0.42,"c":2.6,"c1":3.7,"c2":-2.9,"c3":3.3,"c4":1.7,"c5":3.3,"d":2.1,"d1":3.3,"d2":0.9,"d3":2.7,"d4":1.1,"d5":0.7,"h":2.2,"h1":3.4,"h2":1.0,"h3":2.8,"h4":1.2,"h5":3.4},
{"t":1999.417,"o":-0.49,"c":4.0,"c1":5.1,"c2":2.9,"c3":4.7,"c4":3.1,"c5":3.5,"d":3.2,"d1":4.4,"d2":2.0,"d3":3.8,"d4":2.2,"d5":4.3,"h":3.5,"h1":4.7,"h2":2.3,"h3":4.1,"h4":2.5,"h5":3.9},
{"t":1999.5,"o":-0.8,"c":4.9,"c1":6.0,"c2":3.8,"c3":5.6,"c4":4.0,"c5":5.9,"d":4.3,"d1":5.5,"d2":3.1,"d3":4.9,"d4":3.3,"d5":4.1,"h":4.6,"h1":5.8,"h2":3.4,"h3":5.2,"h4":3.6,"h5":3.7},
{"t":1999.583,"o":0.07,"c":5.15,"c1":6.3,"c2":4.0,"c3":5.8,"c4":4.3,"c5":4.25,"d":5.0,"d1":6.2,"d2":3.8,"d3":5.6,"d4":4.0,"d5":5.9,"h":5.3,"h1":7.0,"h2":4.1,"h3":5.9,"h4":4.3,"h5":6.3},
{"t":1999.667,"o":0.28,"c":4.6,"c1":5.7,"c2":3.5,"c3":5.3,"c4":3.8,"c5":5.0,"d":5.3,"d1":6.8,"d2":4.1,"d3":5.9,"d4":4.3,"d5":4.2,"h":5.65,"h1":6.8,"h2":4.5,"h3":6.2,"h4":4.7,"h5":5.15},
{"t":1999.75,"o":-0.1,"c":2.8,"c1":3.9,"c2":1.7,"c3":3.5,"c4":1.9,"c5":4.0,"d":3.6,"d1":4.8,"d2":2.4,"d3":4.2,"d4":2.6,"d5":3.9,"h":4.2,"h1":5.4,"h2":3.0,"h3":4.8,"h4":3.2,"h5":4.9},
{"t":1999.833,"o":0.7,"c":1.0,"c1":2.1,"c2":-0.2,"c3":1.7,"c4":0.1,"c5":0.0,"d":1.25,"d1":2.4,"d2":0.0,"d3":1.8,"d4":0.2,"d5":2.75,"h":2.2,"h1":3.4,"h2":1.0,"h3":2.8,"h4":1.2,"h5":0.9},
{"t":1999.917,"o":4.4,"c":0.2,"c1":1.3,"c2":-1.7,"c3":0.9,"c4":-0.6,"c5":1.0,"d":0.0,"d1":1.2,"d2":-2.3,"d3":0.6,"d4":-1.2,"d5":-0.7,"h":0.45,"h1":1.6,"h2":-3.5,"h3":1.0,"h4":-0.8,"h5":1.65},
{"t":2000.0,"o":1.84,"c":1.35,"c1":2.4,"c2":0.3,"c3":2.0,"c4":0.5,"c5":-0.15,"d":0.4,"d1":1.6,"d2":-1.6,"d3":1.0,"d4":-0.8,"d5":0.3,"h":0.35,"h1":1.5,"h2":-0.9,"h3":0.9,"h4":-0.7,"h5":-0.45}
]},
"spacing": 40,
"bounds": "flush",
"hconcat": [
{"width": 306, "height": 298.5, "title": {"text": "Control"},
 "layer": [
  {"data": {"name": "ts"}, "transform": [{"fold": ["c1","c2","c3","c4","c5"], "as": ["s","v"]}],
   "mark": {"type": "line", "color": "#0000ff", "strokeWidth": 1, "opacity": 0.3},
   "encoding": {
    "x": {"field": "t", "type": "quantitative", "title": "Date", "scale": {"domain": [1989.686, 2000.397], "nice": false, "zero": false}},
    "y": {"field": "v", "type": "quantitative", "title": "Anomaly", "scale": {"domain": [-5.18, 7.36], "nice": false, "zero": false}},
    "detail": {"field": "s", "type": "nominal"}}},
  {"data": {"name": "ts"}, "mark": {"type": "line", "color": "#0000ff", "strokeWidth": 2.6},
   "encoding": {"x": {"field": "t", "type": "quantitative", "title": "Date"}, "y": {"field": "c", "type": "quantitative", "title": "Anomaly"}}},
  {"data": {"name": "ts"}, "mark": {"type": "line", "color": "#000000", "strokeWidth": 2},
   "encoding": {"x": {"field": "t", "type": "quantitative", "title": "Date"}, "y": {"field": "o", "type": "quantitative", "title": "Anomaly"}}},
  {"data": {"values": [{}]}, "mark": {"type": "rule", "color": "#000000", "strokeWidth": 1, "strokeDash": [3,3]}, "encoding": {"y": {"datum": 0}}},
  {"data": {"values": [{}]}, "mark": {"type": "rule", "color": "#000000", "strokeWidth": 1}, "encoding": {"x": {"datum": 1989.686}, "y": {"datum": -4}, "y2": {"datum": 6}}},
  {"data": {"values": [{}]}, "mark": {"type": "rule", "color": "#000000", "strokeWidth": 1}, "encoding": {"x": {"datum": 1990}, "x2": {"datum": 2000}, "y": {"datum": -5.18}}}
 ]},
{"width": 306, "height": 298.5, "title": {"text": "Decadal"},
 "layer": [
  {"data": {"name": "ts"}, "transform": [{"fold": ["d1","d2","d3","d4","d5"], "as": ["s","v"]}],
   "mark": {"type": "line", "color": "#00ff00", "strokeWidth": 1, "opacity": 0.3},
   "encoding": {
    "x": {"field": "t", "type": "quantitative", "title": "Date", "scale": {"domain": [1989.686, 2000.397], "nice": false, "zero": false}},
    "y": {"field": "v", "type": "quantitative", "title": null, "scale": {"domain": [-4.57, 7.93], "nice": false, "zero": false}},
    "detail": {"field": "s", "type": "nominal"}}},
  {"data": {"name": "ts"}, "mark": {"type": "line", "color": "#00ff00", "strokeWidth": 2.6},
   "encoding": {"x": {"field": "t", "type": "quantitative", "title": "Date"}, "y": {"field": "d", "type": "quantitative", "title": null}}},
  {"data": {"name": "ts"}, "mark": {"type": "line", "color": "#000000", "strokeWidth": 2},
   "encoding": {"x": {"field": "t", "type": "quantitative", "title": "Date"}, "y": {"field": "o", "type": "quantitative", "title": null}}},
  {"data": {"values": [{}]}, "mark": {"type": "rule", "color": "#000000", "strokeWidth": 1, "strokeDash": [3,3]}, "encoding": {"y": {"datum": 0}}},
  {"data": {"values": [{}]}, "mark": {"type": "rule", "color": "#000000", "strokeWidth": 1}, "encoding": {"x": {"datum": 1989.686}, "y": {"datum": -4}, "y2": {"datum": 6}}},
  {"data": {"values": [{}]}, "mark": {"type": "rule", "color": "#000000", "strokeWidth": 1}, "encoding": {"x": {"datum": 1990}, "x2": {"datum": 2000}, "y": {"datum": -4.57}}}
 ]},
{"width": 306, "height": 298.5, "title": {"text": "Historical"},
 "layer": [
  {"data": {"name": "ts"}, "transform": [{"fold": ["h1","h2","h3","h4","h5"], "as": ["s","v"]}],
   "mark": {"type": "line", "color": "#ff0000", "strokeWidth": 1, "opacity": 0.3},
   "encoding": {
    "x": {"field": "t", "type": "quantitative", "title": "Date", "scale": {"domain": [1989.686, 2000.397], "nice": false, "zero": false}},
    "y": {"field": "v", "type": "quantitative", "title": null, "scale": {"domain": [-4.92, 7.58], "nice": false, "zero": false}},
    "detail": {"field": "s", "type": "nominal"}}},
  {"data": {"name": "ts"}, "mark": {"type": "line", "color": "#ff0000", "strokeWidth": 2.6},
   "encoding": {"x": {"field": "t", "type": "quantitative", "title": "Date"}, "y": {"field": "h", "type": "quantitative", "title": null}}},
  {"data": {"name": "ts"}, "mark": {"type": "line", "color": "#000000", "strokeWidth": 2},
   "encoding": {"x": {"field": "t", "type": "quantitative", "title": "Date"}, "y": {"field": "o", "type": "quantitative", "title": null}}},
  {"data": {"values": [{}]}, "mark": {"type": "rule", "color": "#000000", "strokeWidth": 1, "strokeDash": [3,3]}, "encoding": {"y": {"datum": 0}}},
  {"data": {"values": [{}]}, "mark": {"type": "rule", "color": "#000000", "strokeWidth": 1}, "encoding": {"x": {"datum": 1989.686}, "y": {"datum": -4}, "y2": {"datum": 6}}},
  {"data": {"values": [{}]}, "mark": {"type": "rule", "color": "#000000", "strokeWidth": 1}, "encoding": {"x": {"datum": 1990}, "x2": {"datum": 2000}, "y": {"datum": -4.92}}}
 ]}
],
"config": {
 "view": {"stroke": null},
 "font": "Liberation Sans",
 "title": {"font": "Liberation Sans", "fontSize": 12, "fontWeight": "bold", "anchor": "middle", "offset": 1, "color": "#000000"},
 "axis": {"domain": false, "grid": false, "tickColor": "#000000", "tickSize": 4, "tickWidth": 1, "labelFont": "Liberation Sans", "labelFontSize": 6, "labelColor": "#000000", "titleFont": "Liberation Sans", "titleFontSize": 9, "titleFontWeight": "normal", "titleColor": "#000000"},
 "axisX": {"values": [1990,1991,1992,1993,1994,1995,1996,1997,1998,1999,2000], "labelExpr": "datum.value % 2 == 0 ? format(datum.value, 'd') : ''", "labelPadding": 5, "titlePadding": 7, "labelFlush": false, "labelOverlap": false},
 "axisY": {"values": [-4,-2,0,2,4,6], "labelAngle": -90, "labelAlign": "center", "labelBaseline": "bottom", "labelPadding": 5, "titlePadding": 8, "labelOverlap": false}
}
}
